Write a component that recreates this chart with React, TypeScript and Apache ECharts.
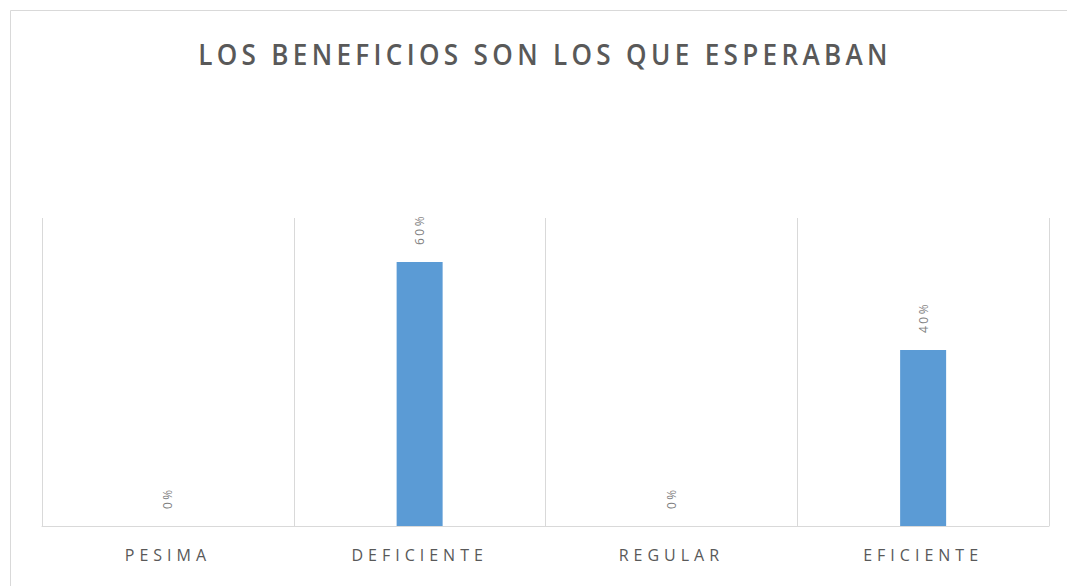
import React, { useEffect, useRef } from "react";
import * as echarts from "echarts";

const titleText = "LOS BENEFICIOS SON LOS QUE ESPERABAN";
const categories = ["PESIMA", "DEFICIENTE", "REGULAR", "EFICIENTE"];
const values = [0, 0.6, 0, 0.4];

export default function App() {
  const ref = useRef<HTMLDivElement>(null);
  useEffect(() => {
    document.body.style.margin = "0";
    const chart = echarts.init(ref.current!, undefined, { renderer: "svg" });
    const fmt = (v: number) => Math.round(v * 100) + "%";
    chart.setOption({
      animation: false,
      backgroundColor: "#ffffff",
      graphic: [
        {
          type: "rect",
          shape: { x: 10.5, y: 10.5, width: 1070, height: 600 },
          style: { fill: "none", stroke: "#d9d9d9", lineWidth: 1 },
          silent: true,
        },
        {
          type: "text",
          x: 545,
          y: 54,
          scaleX: 0.9,
          silent: true,
          style: {
            text: titleText,
            x: 0,
            y: 0,
            align: "center",
            verticalAlign: "middle",
            fontFamily: "Open Sans",
            fontSize: 29,
            fontWeight: 600,
            fill: "#595959",
          },
        },
      ],
      grid: { left: 42, right: 18, top: 218, bottom: 60 },
      xAxis: {
        type: "category",
        data: categories,
        axisLine: { lineStyle: { color: "#d9d9d9" } },
        axisTick: { show: false },
        splitLine: { show: true, lineStyle: { color: "#d9d9d9" } },
        axisLabel: {
          fontFamily: "Open Sans",
          fontSize: 16,
          color: "#595959",
          margin: 21,
        },
      },
      yAxis: {
        type: "value",
        min: 0,
        max: 0.7,
        show: false,
        splitLine: { show: false },
      },
      series: [
        {
          type: "bar",
          data: values,
          barWidth: 46,
          itemStyle: { color: "#5b9bd5" },
          label: {
            show: true,
            position: "top",
            distance: 17,
            rotate: 90,
            align: "left",
            verticalAlign: "middle",
            fontFamily: "Open Sans",
            fontSize: 12,
            color: "#7f7f7f",
            formatter: (p: any) => fmt(p.value),
          },
        },
      ],
    });
    const labelTexts = values.map(fmt);
    const applySpacing = () => {
      const texts = ref.current?.querySelectorAll("text") || [];
      texts.forEach((t: any) => {
        const s = t.textContent || "";
        if (s === titleText) t.setAttribute("letter-spacing", "4.8");
        else if (categories.includes(s)) t.setAttribute("letter-spacing", "5");
        else if (labelTexts.includes(s)) t.setAttribute("letter-spacing", "2.5");
      });
    };
    applySpacing();
    chart.on("finished", applySpacing);
    return () => chart.dispose();
  }, []);
  return <div ref={ref} style={{ width: 1067, height: 586 }} />;
}
